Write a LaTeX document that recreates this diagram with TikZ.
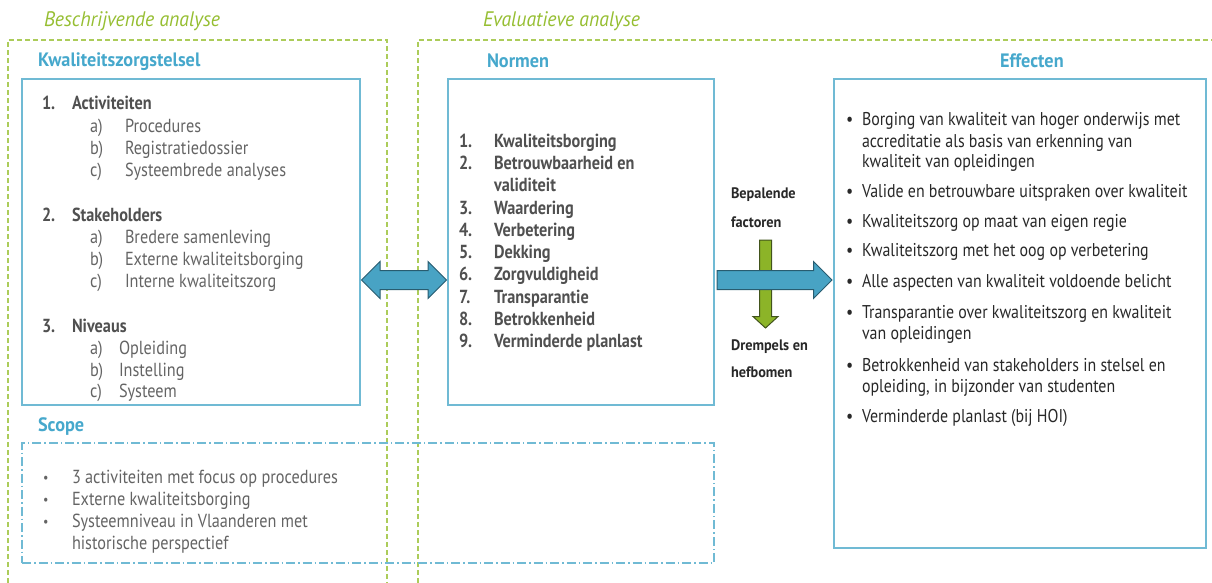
\documentclass[tikz,border=0pt]{standalone}
\usepackage{fontspec}
\setmainfont{PT Sans}[FakeStretch=0.94]
\newfontfamily\bodyfont{PT Sans}[FakeStretch=0.86]
\usetikzlibrary{shapes.arrows,calc}

\definecolor{frameGreen}{RGB}{172,204,90}
\definecolor{labelGreen}{RGB}{150,190,50}
\definecolor{titleBlue}{RGB}{70,168,204}
\definecolor{boxBlue}{RGB}{112,186,212}
\definecolor{arrowBlue}{RGB}{72,163,196}
\definecolor{arrowBlueEdge}{RGB}{40,92,112}
\definecolor{arrowGreen}{RGB}{140,180,40}
\definecolor{arrowGreenEdge}{RGB}{66,84,28}
\definecolor{headGray}{RGB}{80,80,80}
\definecolor{subGray}{RGB}{100,100,100}
\definecolor{darkText}{RGB}{40,40,40}

\newcommand{\stack}[1]{\begin{tabular}[t]{@{}l@{}}#1\end{tabular}}

\begin{document}
\begin{tikzpicture}[x=1pt,y=-1pt,
  every node/.style={inner sep=0pt, outer sep=0pt},
  frame/.style={draw=frameGreen, line width=1.3pt, dash pattern=on 5pt off 3pt},
  panel/.style={draw=boxBlue, line width=1.3pt},
  scopebox/.style={draw=boxBlue, line width=1.3pt, dash pattern=on 9pt off 3pt on 1.5pt off 3pt},
  section/.style={anchor=base west, font=\fontsize{21}{24}\selectfont\itshape, text=labelGreen},
  title/.style={anchor=base west, font=\fontsize{19.4}{22}\selectfont\bfseries, text=titleBlue},
  body/.style={anchor=base west, font=\bodyfont\fontsize{18.9}{22}\selectfont},
  headitem/.style={body, font=\bodyfont\fontsize{18.9}{22}\selectfont\bfseries, text=headGray},
  subitem/.style={body, text=subGray},
  dot/.style={body, text=subGray, font=\bodyfont\fontsize{14}{22}\selectfont},
  effitem/.style={anchor=base west, font=\bodyfont\fontsize{18.5}{21}\selectfont, text=darkText},
  factor/.style={anchor=base west, font=\fontsize{15.2}{18}\selectfont\bfseries, text=darkText},
  blockarrow/.style={fill=arrowBlue, draw=arrowBlueEdge, line width=1pt, inner xsep=0pt, inner ysep=9pt},
  greenarrow/.style={fill=arrowGreen, draw=arrowGreenEdge, line width=1pt, inner xsep=0pt, inner ysep=5.5pt}
]
\path[use as bounding box] (0,0) rectangle (1212,583);

% analysis frames (open at the bottom)
\draw[frame] (8,583) -- (8,40) -- (387,40) -- (387,583);
\draw[frame] (418,583) -- (418,40) -- (1212,40);
\node[section] (beschr) at (44,27) {Beschrijvende analyse};
\node[section] (eval) at (483,27) {Evaluatieve analyse};

% panel outlines
\node[panel, minimum width=338, minimum height=326, anchor=north west] (kzbox) at (22,79) {};
\node[panel, minimum width=266, minimum height=326, anchor=north west] (normbox) at (448,79) {};
\node[panel, minimum width=372, minimum height=469, anchor=north west] (effbox) at (834,79) {};
\node[scopebox, minimum width=692, minimum height=120, anchor=north west] (scopebox) at (22,443) {};

% panel titles
\node[title] (kztitle) at (38,67) {Kwaliteitszorgstelsel};
\node[title] (normtitle) at (487,68) {Normen};
\node[title] (efftitle) at (1000,68) {Effecten};
\node[title] (scopetitle) at (38,431) {Scope};

% Kwaliteitszorgstelsel
\node[headitem] (n1) at (42,110) {1.};
\node[headitem] (act) at (72,110) {Activiteiten};
\node[subitem] (l1a) at (90,132) {a)};
\node[subitem] (t1a) at (125,132) {Procedures};
\node[subitem] (l1b) at (90,154) {b)};
\node[subitem] (t1b) at (125,154) {Registratiedossier};
\node[subitem] (l1c) at (90,176) {c)};
\node[subitem] (t1c) at (125,176) {Systeembrede analyses};

\node[headitem] (n2) at (42,221) {2.};
\node[headitem] (stake) at (72,221) {Stakeholders};
\node[subitem] (l2a) at (90,243) {a)};
\node[subitem] (t2a) at (125,243) {Bredere samenleving};
\node[subitem] (l2b) at (90,265) {b)};
\node[subitem] (t2b) at (125,265) {Externe kwaliteitsborging};
\node[subitem] (l2c) at (90,287) {c)};
\node[subitem] (t2c) at (125,287) {Interne kwaliteitszorg};

\node[headitem] (n3) at (42,332) {3.};
\node[headitem] (niv) at (72,332) {Niveaus};
\node[subitem] (l3a) at (90,354) {a)};
\node[subitem] (t3a) at (119,354) {Opleiding};
\node[subitem] (l3b) at (90,376) {b)};
\node[subitem] (t3b) at (119,376) {Instelling};
\node[subitem] (l3c) at (90,397) {c)};
\node[subitem] (t3c) at (119,397) {Systeem};

% Normen
\node[headitem] (m1) at (459,147) {1.};
\node[headitem] (k1) at (494,147) {Kwaliteitsborging};
\node[headitem] (m2) at (459,169) {2.};
\node[headitem] (k2) at (494,169) {\stack{Betrouwbaarheid en\\validiteit}};
\node[headitem] (m3) at (459,214) {3.};
\node[headitem] (k3) at (494,214) {Waardering};
\node[headitem] (m4) at (459,236) {4.};
\node[headitem] (k4) at (494,236) {Verbetering};
\node[headitem] (m5) at (459,258) {5.};
\node[headitem] (k5) at (494,258) {Dekking};
\node[headitem] (m6) at (459,280) {6.};
\node[headitem] (k6) at (494,280) {Zorgvuldigheid};
\node[headitem] (m7) at (459,303) {7.};
\node[headitem] (k7) at (494,303) {Transparantie};
\node[headitem] (m8) at (459,325) {8.};
\node[headitem] (k8) at (494,325) {Betrokkenheid};
\node[headitem] (m9) at (459,347) {9.};
\node[headitem] (k9) at (494,347) {Verminderde planlast};

% Effecten
\foreach \y/\txt [count=\i] in {
  126/{\stack{Borging van kwaliteit van hoger onderwijs met\\accreditatie als basis van erkenning van\\kwaliteit van opleidingen}},
  197/{Valide en betrouwbare uitspraken over kwaliteit},
  227/{Kwaliteitszorg op maat van eigen regie},
  256/{Kwaliteitszorg met het oog op verbetering},
  287/{Alle aspecten van kwaliteit voldoende belicht},
  318/{\stack{Transparantie over kwaliteitszorg en kwaliteit\\van opleidingen}},
  371/{\stack{Betrokkenheid van stakeholders in stelsel en\\opleiding, in bijzonder van studenten}},
  422/{Verminderde planlast (bij HOI)}} {
  \node[effitem] (eb\i) at (846,\y) {\textbullet};
  \node[effitem] (e\i) at (862,\y) {\txt};
}

% Scope
\node[dot] (sb1) at (43,482) {\textbullet};
\node[subitem] (s1) at (72,483) {3 activiteiten met focus op procedures};
\node[dot] (sb2) at (43,504) {\textbullet};
\node[subitem] (s2) at (72,505) {Externe kwaliteitsborging};
\node[dot] (sb3) at (43,526) {\textbullet};
\node[subitem] (s3) at (72,527) {\stack{Systeemniveau in Vlaanderen met\\historische perspectief}};

% factor labels
\node[factor] (bep1) at (731,198) {Bepalende};
\node[factor] (bep2) at (731,227) {factoren};
\node[factor] (drm1) at (731,350) {Drempels en};
\node[factor] (drm2) at (731,377) {hefbomen};

% block arrows
\node[double arrow, blockarrow, minimum height=85, minimum width=36,
      double arrow head extend=9, anchor=center] (link)
      at ($(kzbox.east)!0.5!(normbox.west)+(0,38)$) {};
\node[single arrow, greenarrow, rotate=-90, minimum height=88, minimum width=24,
      single arrow head extend=6.5, single arrow tip angle=95, anchor=tail] (drempel)
      at (765.5,240) {};
\node[single arrow, blockarrow, minimum height=115, minimum width=36,
      single arrow head extend=9, anchor=tail] (effect) at (717,280) {};
\end{tikzpicture}
\end{document}
